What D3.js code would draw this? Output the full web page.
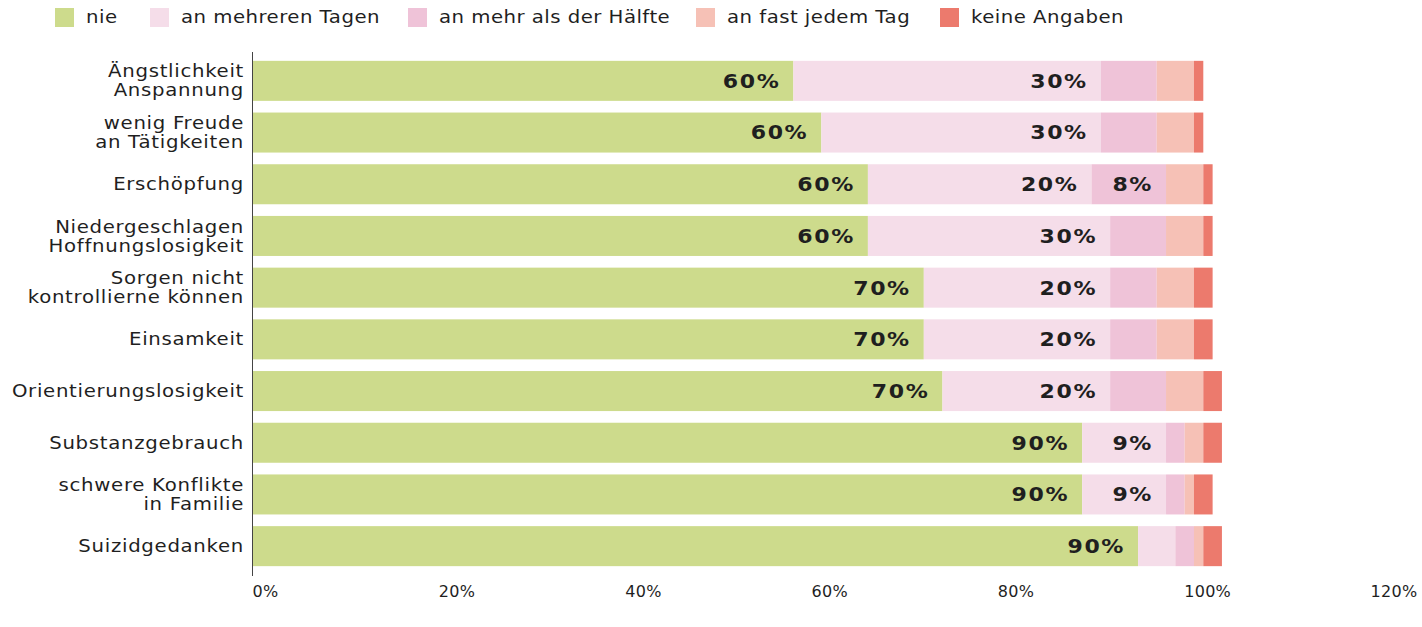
<!DOCTYPE html>
<html>
<head>
<meta charset="utf-8">
<script src="https://cdn.jsdelivr.net/npm/d3@7"></script>
<style>
  body { margin: 0; background: #fff; }
  text { font-family: "DejaVu Sans", sans-serif; fill: #1f1f1f; }
  .cat-label { font-size: 17px; letter-spacing: 0.6px; }
  .tick-label { font-size: 16px; letter-spacing: 0.3px; }
  .legend-label { font-size: 17px; letter-spacing: 0.4px; }
  .value-label { font-size: 19px; font-weight: bold; letter-spacing: 1.4px; }
</style>
</head>
<body>
<div id="chart"></div>
<script>
// ── Data ───────────────────────────────────────────────────────
const categories = [
  'Ängstlichkeit\nAnspannung',
  'wenig Freude\nan Tätigkeiten',
  'Erschöpfung',
  'Niedergeschlagen\nHoffnungslosigkeit',
  'Sorgen nicht\nkontrollierne können',
  'Einsamkeit',
  'Orientierungslosigkeit',
  'Substanzgebrauch',
  'schwere Konflikte\nin Familie',
  'Suizidgedanken'
];

const seriesNames = ['nie', 'an mehreren Tagen', 'an mehr als der Hälfte', 'an fast jedem Tag', 'keine Angaben'];
const seriesColors = ['#cddb8c', '#f5dde9', '#efc3d8', '#f6c1b6', '#ec7a6d'];

// percent values per category, one array per series
const nie            = [58, 61, 66, 66, 72, 72, 74, 89, 89, 95];
const mehrereTage    = [33, 30, 24, 26, 20, 20, 18,  9,  9,  4];
const mehrAlsHaelfte = [ 6,  6,  8,  6,  5,  5,  6,  2,  2,  2];
const fastJedenTag   = [ 4,  4,  4,  4,  4,  4,  4,  2,  1,  1];
const keineAngaben   = [ 1,  1,  1,  1,  2,  2,  2,  2,  2,  2];

// data labels as printed on the bars ('' = no label)
const nieLabels      = ['60%', '60%', '60%', '60%', '70%', '70%', '70%', '90%', '90%', '90%'];
const mehrereLabels  = ['30%', '30%', '20%', '30%', '20%', '20%', '20%', '9%', '9%', ''];
const haelfteLabels  = ['', '', '8%', '', '', '', '', '', '', ''];

const tickValues = [0, 20, 40, 60, 80, 100, 120];

// ── Setup ──────────────────────────────────────────────────────
const width = 1422, height = 627;
const svg = d3.select('#chart').append('svg')
  .attr('width', width)
  .attr('height', height);

const x = d3.scaleLinear().domain([0, 120]).range([253, 1371]);
const y = d3.scaleBand().domain(categories).range([55, 572]).paddingInner(0.226).paddingOuter(0.113);

// the source font is a wide geometric face; stretch DejaVu a bit to match
const stretch = 1.16;

const seriesValues = [nie, mehrereTage, mehrAlsHaelfte, fastJedenTag, keineAngaben];
const seriesLabels = [nieLabels, mehrereLabels, haelfteLabels, null, null];

// build rows for d3.stack
const rows = categories.map((c, i) => {
  const row = { cat: c };
  seriesNames.forEach((s, j) => { row[s] = seriesValues[j][i]; });
  return row;
});
const stacked = d3.stack().keys(seriesNames)(rows);

// ── Bars ───────────────────────────────────────────────────────
const layers = svg.append('g').selectAll('g.layer').data(stacked)
  .join('g')
  .attr('class', 'layer')
  .attr('fill', (d, i) => seriesColors[i]);

layers.selectAll('rect').data(d => d)
  .join('rect')
  .attr('x', d => x(d[0]))
  .attr('y', d => y(d.data.cat))
  .attr('width', d => x(d[1]) - x(d[0]))
  .attr('height', y.bandwidth());

// value labels, right-aligned inside the segment
stacked.forEach((layer, j) => {
  const labels = seriesLabels[j];
  if (!labels) return;
  svg.append('g').selectAll('text').data(layer.filter((d, i) => labels[i]))
    .join('text')
    .attr('class', 'value-label')
    .attr('transform', d => `translate(${x(d[1]) - 13}, ${y(d.data.cat) + y.bandwidth() / 2}) scale(${stretch}, 1)`)
    .attr('dy', '0.36em')
    .attr('text-anchor', 'end')
    .text(d => labels[categories.indexOf(d.data.cat)]);
});

// ── Axes ───────────────────────────────────────────────────────
svg.append('line')
  .attr('x1', x(0) - 0.5).attr('x2', x(0) - 0.5)
  .attr('y1', 52).attr('y2', 576)
  .attr('stroke', '#444')
  .attr('stroke-width', 1);

const xAxis = svg.append('g')
  .attr('transform', `translate(0, 581)`)
  .call(d3.axisBottom(x).tickValues(tickValues).tickSize(0).tickFormat(d => d + '%'));
xAxis.select('.domain').remove();
xAxis.selectAll('text')
  .attr('class', 'tick-label')
  .attr('text-anchor', 'start')
  .attr('x', -1)
  .attr('dy', '0.8em')
  .attr('fill', null);

// category labels (multi-line)
const catG = svg.append('g').selectAll('text').data(categories)
  .join('text')
  .attr('class', 'cat-label')
  .attr('text-anchor', 'end')
  .attr('transform', d => `translate(244, ${y(d) + y.bandwidth() / 2}) scale(${stretch}, 1)`);

catG.selectAll('tspan').data(d => {
  const lines = d.split('\n');
  return lines.map((l, k) => ({ l, k, n: lines.length }));
})
  .join('tspan')
  .attr('x', 0)
  .attr('y', d => (d.k - (d.n - 1) / 2) * 19)
  .attr('dy', '0.36em')
  .text(d => d.l);

// ── Legend ─────────────────────────────────────────────────────
const legendX = [55, 150, 408, 696, 940];
const legend = svg.append('g').selectAll('g').data(seriesNames)
  .join('g')
  .attr('transform', (d, i) => `translate(${legendX[i]}, 8)`);

legend.append('rect')
  .attr('width', 19).attr('height', 19)
  .attr('fill', (d, i) => seriesColors[i]);

legend.append('text')
  .attr('class', 'legend-label')
  .attr('transform', `translate(31, 9.5) scale(${stretch}, 1)`)
  .attr('dy', '0.35em')
  .text(d => d);
</script>
</body>
</html>
